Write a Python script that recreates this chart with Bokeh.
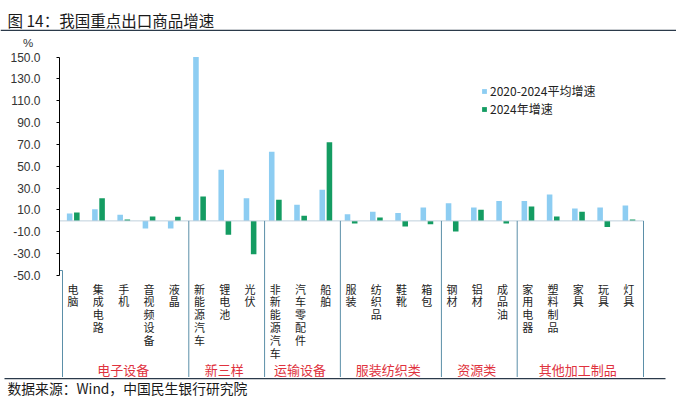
from bokeh.plotting import figure
from bokeh.layouts import column
from bokeh.models import (Range1d, FixedTicker, Legend, LegendItem, ColumnDataSource,
                          NumeralTickFormatter)
from bokeh.core.properties import value
from bokeh.embed import file_html
from bokeh.resources import INLINE
import numpy as np

# ---------------- data ----------------
categories = ["电脑", "集成电路", "手机", "音视频设备", "液晶",
              "新能源汽车", "锂电池", "光伏",
              "非新能源汽车", "汽车零配件", "船舶",
              "服装", "纺织品", "鞋靴", "箱包",
              "钢材", "铝材", "成品油",
              "家用电器", "塑料制品", "家具", "玩具", "灯具"]
avg_2020_2024 = [6.7, 10.7, 5.5, -7.0, -7.0,
                 150.0, 46.8, 20.8,
                 63.3, 14.7, 28.4,
                 6.1, 8.3, 7.3, 12.2,
                 16.2, 12.2, 18.3,
                 18.3, 24.2, 11.3, 12.2, 14.1]
growth_2024 = [7.6, 20.8, 1.2, 4.0, 3.7,
               22.3, -12.8, -30.6,
               19.3, 4.6, 71.9,
               -2.4, 3.1, -5.2, -3.1,
               -9.8, 10.1, -2.4,
               13.1, 4.0, 8.3, -5.5, 1.2]
groups = ["电子设备", "新三样", "运输设备", "服装纺织类", "资源类", "其他加工制品"]
group_sizes = [5, 3, 3, 4, 3, 5]
y_ticks = [-50, -30, -10, 10, 30, 50, 70, 90, 110, 130, 150]
series_names = ["2020-2024平均增速", "2024年增速"]
title_text = "图 14：我国重点出口商品增速"
source_text = "数据来源：Wind，中国民生银行研究院"

LIGHT = "#8DCDF2"
GREEN = "#149C62"
SEP = "#5B8FA8"
RED = "#E0323E"
DARK = "#2b3a4a"
CJK = "Noto Sans CJK SC"

W = 676
TOP_H, FT, FB, BOT_H = 50, 50, 377, 22
FL, FR = 59, 668
MAIN_H = FB - FT


def strip(h):
    f = figure(width=W, height=h, output_backend="svg", toolbar_location=None,
               x_range=Range1d(0, W), y_range=Range1d(h, 0), min_border=0,
               outline_line_color=None, frame_align=False)
    f.axis.visible = False
    f.grid.visible = False
    return f


# ---------------- top strip: title, unit ----------------
top = strip(TOP_H)
top.text(x=[7], y=[19], text=[title_text], text_font=value(CJK),
         text_font_size="15.5px", text_baseline="middle", text_align="left", text_color="#1a1a1a")
top.segment(x0=[0], y0=[29.8], x1=[W], y1=[29.8], line_color=DARK, line_width=1.3)
top.text(x=[27.5], y=[42.5], text=["%"], text_font=value("Liberation Sans"),
         text_font_size="11.5px", text_baseline="middle", text_align="center", text_color="#333333")

# ---------------- main chart ----------------
px_per_unit = (275.0 - 56.5) / 200.0
def yv(py):
    return 150.0 - (py - 56.5) / px_per_unit
y_end = yv(FT)
y_start = yv(FB)

ncat = len(categories)
cat_px = (643.0 - 62.0) / ncat
x_start = -(62.0 - FL) / cat_px
x_end = ncat + (FR - 643.0) / cat_px

p = figure(width=W, height=MAIN_H, output_backend="svg", toolbar_location=None,
           x_range=Range1d(x_start, x_end), y_range=Range1d(y_start, y_end),
           min_border_left=FL, min_border_right=W - FR, min_border_top=0,
           min_border_bottom=0, outline_line_color=None, frame_align=False)
p.xaxis.visible = False
p.grid.visible = False
yax = p.yaxis[0]
yax.ticker = FixedTicker(ticks=y_ticks)
yax.formatter = NumeralTickFormatter(format="0.0")
yax.bounds = (-50, 150)
yax.axis_line_color = "#000000"
yax.axis_line_width = 1
yax.major_tick_out = 3
yax.major_tick_in = 0
yax.minor_tick_out = 0
yax.minor_tick_in = 0
yax.major_tick_line_color = "#000000"
yax.major_label_standoff = 16
yax.major_label_text_font = "Liberation Sans"
yax.major_label_text_font_size = "12px"
yax.major_label_text_color = "#333333"

idx = np.arange(ncat)
bw = 0.22
src = ColumnDataSource(dict(xa=idx + 0.283, xg=idx + 0.567,
                            a=avg_2020_2024, g=growth_2024))
r1 = p.vbar(x="xa", top="a", bottom=0, width=bw, source=src,
            fill_color=LIGHT, line_color=None)
r2 = p.vbar(x="xg", top="g", bottom=0, width=bw, source=src,
            fill_color=GREEN, line_color=None)

# zero line
p.segment(x0=[x_start], y0=[0], x1=[ncat], y1=[0], line_color="#BFD0DC", line_width=1)

# group separators
bounds = np.concatenate([[0], np.cumsum(group_sizes)])
sep_bottom = yv(FB + 2)
p.segment(x0=[x_start], y0=[yv(270)], x1=[0], y1=[yv(270)], line_color=SEP, line_width=1)
p.segment(x0=[0], y0=[yv(270)], x1=[0], y1=[sep_bottom], line_color=SEP, line_width=1)
p.segment(x0=list(bounds[1:]), y0=[0] * len(group_sizes), x1=list(bounds[1:]),
          y1=[sep_bottom] * len(group_sizes), line_color=SEP, line_width=1)

# category labels (vertical stacked)
p.text(x=list(idx + 0.42), y=[yv(280)] * ncat, text=["\n".join(c) for c in categories],
       text_font=value(CJK), text_font_size="11px", text_align="center",
       text_baseline="top", text_line_height=0.8, text_color="#222222")

# group labels
centers = (bounds[:-1] + bounds[1:]) / 2.0
p.text(x=list(centers - 0.1), y=[yv(368.5)] * len(groups), text=groups,
       text_font=value(CJK), text_font_size="13px", text_align="center",
       text_baseline="middle", text_color=RED)

legend = Legend(items=[LegendItem(label=series_names[0], renderers=[r1]),
                       LegendItem(label=series_names[1], renderers=[r2])],
                location=(422, FB - 80 - 37), orientation="vertical",
                glyph_width=6, glyph_height=6, label_height=15, spacing=1,
                padding=0, margin=0, label_standoff=3,
                label_text_font=CJK, label_text_font_size="12px",
                label_text_color="#222222", border_line_color=None,
                background_fill_alpha=0)
p.add_layout(legend)

# ---------------- bottom strip: source ----------------
bot = strip(BOT_H)
bot.segment(x0=[4], y0=[1.2], x1=[665], y1=[1.2], line_color=DARK, line_width=1.3)
bot.text(x=[7], y=[10], text=[source_text], text_font=value(CJK),
         text_font_size="13.8px", text_baseline="middle", text_align="left", text_color="#1a1a1a")

layout = column(top, p, bot, spacing=0)
open("out.html", "w").write(file_html(layout, INLINE))
